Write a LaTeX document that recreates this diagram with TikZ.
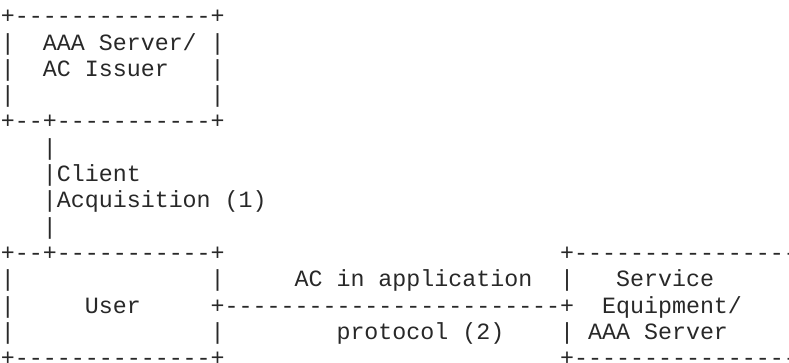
\documentclass[tikz,border=0pt]{standalone}
\usepackage{fontspec}
\setmonofont{Liberation Mono}
\definecolor{asciiink}{RGB}{40,40,40}

\tikzset{
	ascii/.style={font=\ttfamily\fontsize{23.3}{26.3}\selectfont, text=asciiink,
		anchor=base west, inner sep=0pt, outer sep=0pt}
}

\begin{document}
\begin{tikzpicture}[x=13.98pt, y=-26.3pt]

	\clip (-1pt,23.7pt) rectangle (788pt,-338.3pt);

	% AAA server / AC issuer box
	\node[ascii] (issuerTop) at (0,0) {+--------------+};
	\node[ascii] (issuerL1) at (0,1) {|};
	\node[ascii] (issuerName) at (3,1) {AAA Server/};
	\node[ascii] (issuerR1) at (15,1) {|};
	\node[ascii] (issuerL2) at (0,2) {|};
	\node[ascii] (issuerRole) at (3,2) {AC Issuer};
	\node[ascii] (issuerR2) at (15,2) {|};
	\node[ascii] (issuerL3) at (0,3) {|};
	\node[ascii] (issuerR3) at (15,3) {|};
	\node[ascii] (issuerBot) at (0,4) {+--+-----------+};

	% Client acquisition link
	\node[ascii] (acqBar1) at (3,5) {|};
	\node[ascii] (acqLine1) at (3,6) {|Client};
	\node[ascii] (acqLine2) at (3,7) {|Acquisition (1)};
	\node[ascii] (acqBar2) at (3,8) {|};

	% User box
	\node[ascii] (userTop) at (0,9) {+--+-----------+};
	\node[ascii] (userL1) at (0,10) {|};
	\node[ascii] (userR1) at (15,10) {|};
	\node[ascii] (userL2) at (0,11) {|};
	\node[ascii] (userName) at (6,11) {User};
	\node[ascii] (userL3) at (0,12) {|};
	\node[ascii] (userR3) at (15,12) {|};
	\node[ascii] (userBot) at (0,13) {+--------------+};

	% Application protocol link
	\node[ascii] (protoLine) at (15,11) {+------------------------+};
	\node[ascii] (protoTop) at (21,10) {AC in application};
	\node[ascii] (protoBot) at (24,12) {protocol (2)};

	% Service equipment box
	\node[ascii] (sveTop) at (40,9) {+----------------+};
	\node[ascii] (sveL1) at (40,10) {|};
	\node[ascii] (sveName1) at (44,10) {Service};
	\node[ascii] (sveR1) at (56,10) {|};
	\node[ascii] (sveName2) at (43,11) {Equipment/};
	\node[ascii] (sveR2) at (56,11) {|};
	\node[ascii] (sveL3) at (40,12) {|};
	\node[ascii] (sveName3) at (42,12) {AAA Server};
	\node[ascii] (sveR3) at (56,12) {|};
	\node[ascii] (sveBot) at (40,13) {+----------------+};

\end{tikzpicture}
\end{document}
